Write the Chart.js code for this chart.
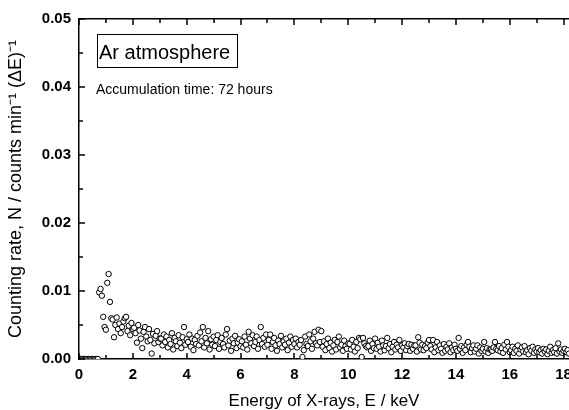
<!doctype html>
<html>

<head>
    <title>Ar atmosphere spectrum</title>
    <script src="https://cdn.jsdelivr.net/npm/chart.js"></script>
    <style>
        body { margin: 0; background: #fff; overflow: hidden; }
    </style>
</head>

<body>
    <canvas id="myChart" width="569" height="410"></canvas>
    <script>
        // channel width of the spectrum, keV
        const channelWidth = 0.05;
        // counting rate per channel, in units of 1e-4 counts/min
        const rateE4 = [
            0, 0, 0, 0, 0, 0, 0, 0, 0, 0, 0, 0, 0, 0, 98, 103, 93, 62, 47, 43,
            112, 125, 84, 60, 58, 32, 50, 61, 44, 52, 38, 47, 55, 60, 62, 41, 49, 35, 53, 44,
            46, 38, 24, 50, 42, 30, 16, 40, 47, 33, 26, 44, 28, 8, 37, 23, 34, 41, 25, 30,
            30, 20, 36, 25, 33, 17, 28, 22, 38, 14, 31, 26, 19, 35, 24, 16, 32, 47, 21, 29,
            25, 36, 18, 30, 13, 28, 22, 34, 20, 39, 26, 47, 17, 31, 23, 41, 14, 29, 21, 33,
            19, 28, 35, 15, 25, 31, 22, 17, 36, 44, 20, 27, 12, 30, 23, 34, 16, 24, 29, 19,
            26, 17, 33, 21, 14, 40, 30, 23, 35, 19, 25, 33, 15, 28, 47, 22, 31, 18, 36, 21,
            28, 36, 15, 25, 31, 20, 12, 27, 22, 34, 17, 26, 21, 30, 13, 24, 33, 18, 28, 22,
            30, 17, 25, 21, 28, 3, 13, 33, 22, 19, 36, 26, 15, 30, 40, 23, 20, 43, 25, 41,
            18, 26, 13, 22, 30, 16, 24, 11, 20, 28, 14, 25, 33, 17, 21, 12, 27, 19, 15, 23,
            22, 14, 28, 18, 11, 25, 16, 31, 29, 3, 31, 23, 19, 17, 19, 27, 12, 22, 16, 30,
            15, 24, 18, 11, 27, 20, 13, 19, 31, 16, 22, 10, 18, 25, 14, 21, 17, 28, 12, 20,
            17, 23, 13, 19, 22, 12, 21, 15, 20, 20, 11, 32, 24, 14, 21, 13, 19, 16, 24, 28,
            19, 14, 28, 10, 17, 25, 13, 20, 15, 9, 22, 12, 18, 14, 23, 10, 17, 13, 21, 15,
            12, 31, 15, 19, 9, 17, 13, 21, 25, 18, 10, 16, 20, 11, 15, 20, 8, 17, 12, 15,
            25, 11, 16, 9, 14, 14, 12, 17, 25, 15, 13, 19, 11, 16, 9, 21, 14, 25, 18, 10,
            13, 18, 9, 15, 12, 20, 8, 14, 17, 11, 19, 10, 13, 7, 16, 12, 18, 9, 14, 11,
            16, 10, 13, 8, 15, 11, 14, 7, 12, 18, 9, 13, 10, 16, 8, 23, 11, 14, 9, 12,
            15, 10, 13, 8
        ];
        const xTicks = [0, 2, 4, 6, 8, 10, 12, 14, 16, 18];
        const yTicks = [0.00, 0.01, 0.02, 0.03, 0.04, 0.05];
        const xMax = 18.2;

        const points = rateE4.map((v, i) => ({ x: channelWidth * (i + 1), y: v / 10000 }));

        const FONT = 'Arial, "Liberation Sans", sans-serif';

        // ticks point into the plot, drawn from the scales
        const insideTicks = {
            id: 'insideTicks',
            afterDraw(chart) {
                const c = chart.ctx, a = chart.chartArea;
                const xs = chart.scales.x, ys = chart.scales.y;
                c.save();
                c.strokeStyle = '#000';
                c.lineWidth = 1.5;
                c.beginPath();
                for (let v = 0; v <= xMax; v += 1) {
                    const px = Math.round(xs.getPixelForValue(v));
                    const len = (v % 2 === 0) ? 6 : 4;
                    c.moveTo(px, a.bottom); c.lineTo(px, a.bottom - len);
                    c.moveTo(px, a.top); c.lineTo(px, a.top + len);
                }
                for (let k = 0; k <= 10; k++) {
                    const py = Math.round(ys.getPixelForValue(k * 0.005));
                    const len = (k % 2 === 0) ? 6 : 4;
                    c.moveTo(a.left, py); c.lineTo(a.left + len, py);
                }
                c.stroke();

                // annotations
                c.fillStyle = '#000';
                c.lineWidth = 1;
                c.strokeRect(a.left + 18.5, a.top + 15.5, 140, 33);
                c.font = '20px ' + FONT;
                c.textBaseline = 'alphabetic';
                c.fillText('Ar atmosphere', a.left + 20, a.top + 40);
                c.font = '14px ' + FONT;
                c.fillText('Accumulation time: 72 hours', a.left + 17, a.top + 75);
                c.restore();
            }
        };

        const ctx = document.getElementById('myChart').getContext('2d');
        const myChart = new Chart(ctx, {
            type: 'scatter',
            data: {
                datasets: [{
                    data: points,
                    pointStyle: 'circle',
                    pointRadius: 2.7,
                    borderWidth: 1,
                    borderColor: '#000',
                    backgroundColor: '#fff'
                }]
            },
            options: {
                responsive: false,
                animation: false,
                layout: { padding: 0, autoPadding: false },
                plugins: {
                    legend: { display: false },
                    tooltip: { enabled: false }
                },
                scales: {
                    x: {
                        type: 'linear',
                        position: 'bottom',
                        min: 0,
                        max: xMax,
                        afterBuildTicks: s => { s.ticks = xTicks.map(v => ({ value: v })); },
                        afterFit: s => { s.height = 51; s.paddingLeft = 0; s.paddingRight = 0; },
                        grid: { display: false, drawTicks: false },
                        border: { display: true, color: '#000', width: 1.5 },
                        ticks: {
                            padding: 7,
                            color: '#000',
                            maxRotation: 0,
                            autoSkip: false,
                            font: { family: FONT, size: 15, weight: 'bold' }
                        },
                        title: {
                            display: true,
                            text: 'Energy of X-rays, E / keV',
                            color: '#000',
                            padding: { top: 0, bottom: -2 },
                            font: { family: FONT, size: 17 }
                        }
                    },
                    x2: {
                        type: 'linear',
                        position: 'top',
                        min: 0,
                        max: xMax,
                        afterFit: s => { s.height = 19; s.paddingLeft = 0; s.paddingRight = 0; },
                        grid: { display: false, drawTicks: false },
                        border: { display: true, color: '#000', width: 1.5 },
                        ticks: { display: false }
                    },
                    y: {
                        type: 'linear',
                        min: 0,
                        max: 0.05,
                        afterBuildTicks: s => { s.ticks = yTicks.map(v => ({ value: v })); },
                        afterFit: s => { s.width = 79; s.paddingTop = 0; s.paddingBottom = 0; },
                        grid: { display: false, drawTicks: false },
                        border: { display: true, color: '#000', width: 1.5 },
                        ticks: {
                            padding: 8,
                            color: '#000',
                            callback: v => v.toFixed(2),
                            font: { family: FONT, size: 15, weight: 'bold' }
                        },
                        title: {
                            display: true,
                            text: 'Counting rate, N / counts min\u207B\u00B9 (\u0394E)\u207B\u00B9',
                            color: '#000',
                            padding: { top: 5, bottom: 0 },
                            font: { family: FONT, size: 18 }
                        }
                    }
                }
            },
            plugins: [insideTicks]
        });
    </script>
</body>

</html>
